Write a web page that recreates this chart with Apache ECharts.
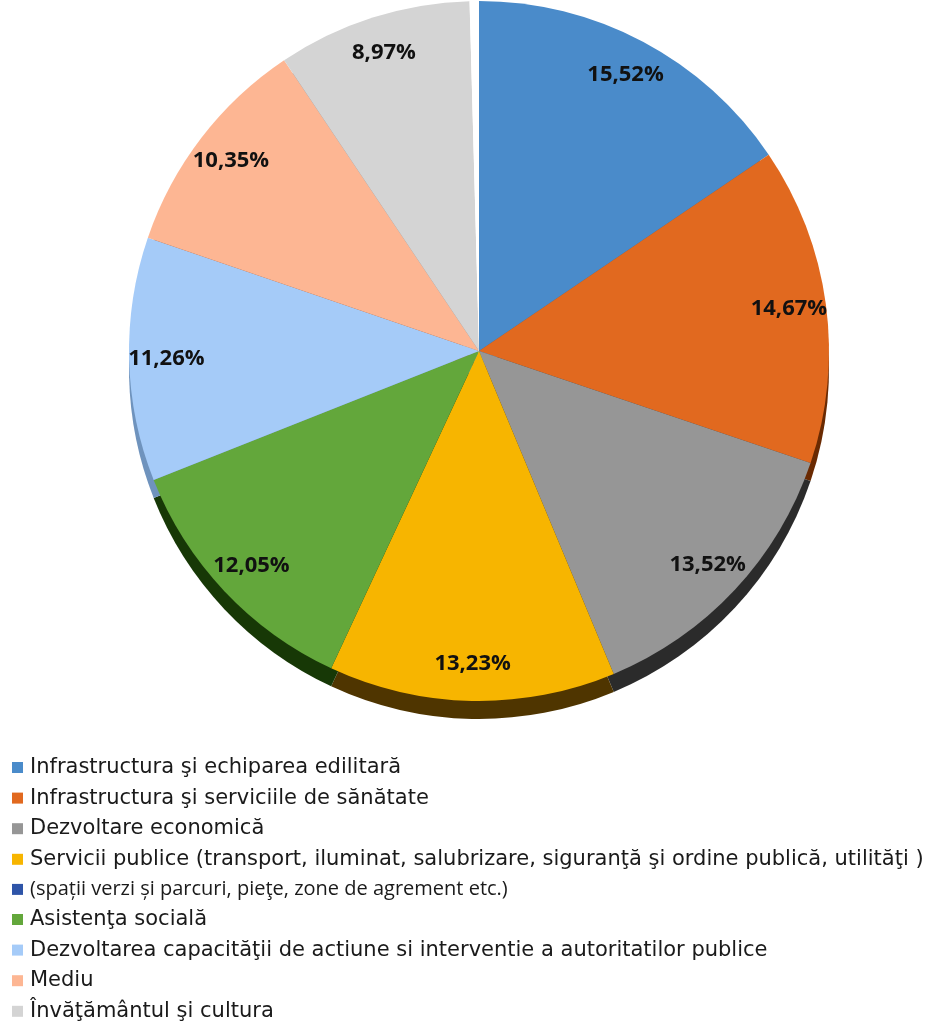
<!DOCTYPE html>
<html>
<head>
<meta charset="utf-8">
<script src="https://cdn.jsdelivr.net/npm/echarts@6/dist/echarts.min.js"></script>
<style>
html, body { margin: 0; padding: 0; background: #fff; }
#chart { width: 926px; height: 1021px; }
</style>
</head>
<body>
<div id="chart"></div>
<script>
// categorii in ordinea legendei
const categories = [
    "Infrastructura şi echiparea edilitară",
    "Infrastructura şi serviciile de sănătate",
    "Dezvoltare economică",
    "Servicii publice (transport, iluminat, salubrizare, siguranţă şi ordine publică, utilităţi )",
    "(spații verzi și parcuri, pieţe, zone de agrement etc.)",
    "Asistenţa socială",
    "Dezvoltarea capacităţii de actiune si interventie a autoritatilor publice",
    "Mediu",
    "Învăţământul şi cultura"
];
// procente
const values = [15.52, 14.67, 13.52, 13.23, 0.43, 12.05, 11.26, 10.35, 8.97];
const colors = ["#4a8bca", "#e1691f", "#969696", "#f7b500", "#2e54a8", "#63a73b", "#a5cbf8", "#fdb693", "#d4d4d4"];
const sideColors = ["#2d6aa5", "#6a2a02", "#2b2b2b", "#4f3500", "#ffffff", "#173806", "#6f93bd", "#8a5540", "#8a8a8a"];

// ordinea feliilor in cerc (felia mica ramane sus, ca spatiu alb)
const sliceOrder = [0, 1, 2, 3, 5, 6, 7, 8, 4];

const chart = echarts.init(document.getElementById("chart"));

const cx = 479, cy = 351, R = 350;

function build(colorList, hideSmall) {
    return sliceOrder.map(i => ({
        name: categories[i],
        value: values[i],
        itemStyle: { color: (i === 4 && hideSmall) ? "#ffffff" : colorList[i] }
    }));
}

const legendData = categories.map((c, i) => {
    const item = { name: c, itemStyle: { color: colors[i] } };
    if (i === 4) {
        item.textStyle = { fontFamily: "Open Sans", fontSize: 20 };
    }
    return item;
});

const option = {
    animation: false,
    legend: {
        orient: "vertical",
        left: 12,
        top: 757,
        height: 300,
        padding: 0,
        icon: "rect",
        itemWidth: 11,
        itemHeight: 11,
        itemGap: 9.6,
        data: legendData,
        textStyle: {
            fontFamily: "DejaVu Sans",
            fontSize: 21,
            color: "#1a1a1a",
            padding: [0, 0, 0, 2]
        }
    },
    series: [
        {
            name: "main",
            type: "pie",
            z: 3,
            center: [cx, cy],
            radius: [0, R],
            startAngle: 90,
            clockwise: true,
            silent: true,
            label: { show: false },
            labelLine: { show: false },
            data: build(colors, true)
        },
        {
            // partea laterala (efect 3D)
            name: "side",
            type: "pie",
            z: 1,
            center: [cx, cy + 18],
            radius: [0, R],
            startAngle: 90,
            clockwise: true,
            silent: true,
            label: { show: false },
            labelLine: { show: false },
            data: build(sideColors, true)
        },
        {
            // doar etichete
            name: "labels",
            type: "pie",
            z: 4,
            center: [cx, cy],
            radius: [R * 0.77, R],
            startAngle: 90,
            clockwise: true,
            silent: true,
            itemStyle: { color: "rgba(0,0,0,0)" },
            label: {
                show: true,
                position: "inside",
                fontFamily: "Open Sans",
                fontWeight: "bold",
                fontSize: 22,
                color: "#111",
                formatter: p => p.value < 1 ? "" : p.value.toFixed(2).replace(".", ",") + "%"
            },
            labelLine: { show: false },
            data: sliceOrder.map(i => ({ name: categories[i], value: values[i] }))
        }
    ]
};

chart.setOption(option);
</script>
</body>
</html>
